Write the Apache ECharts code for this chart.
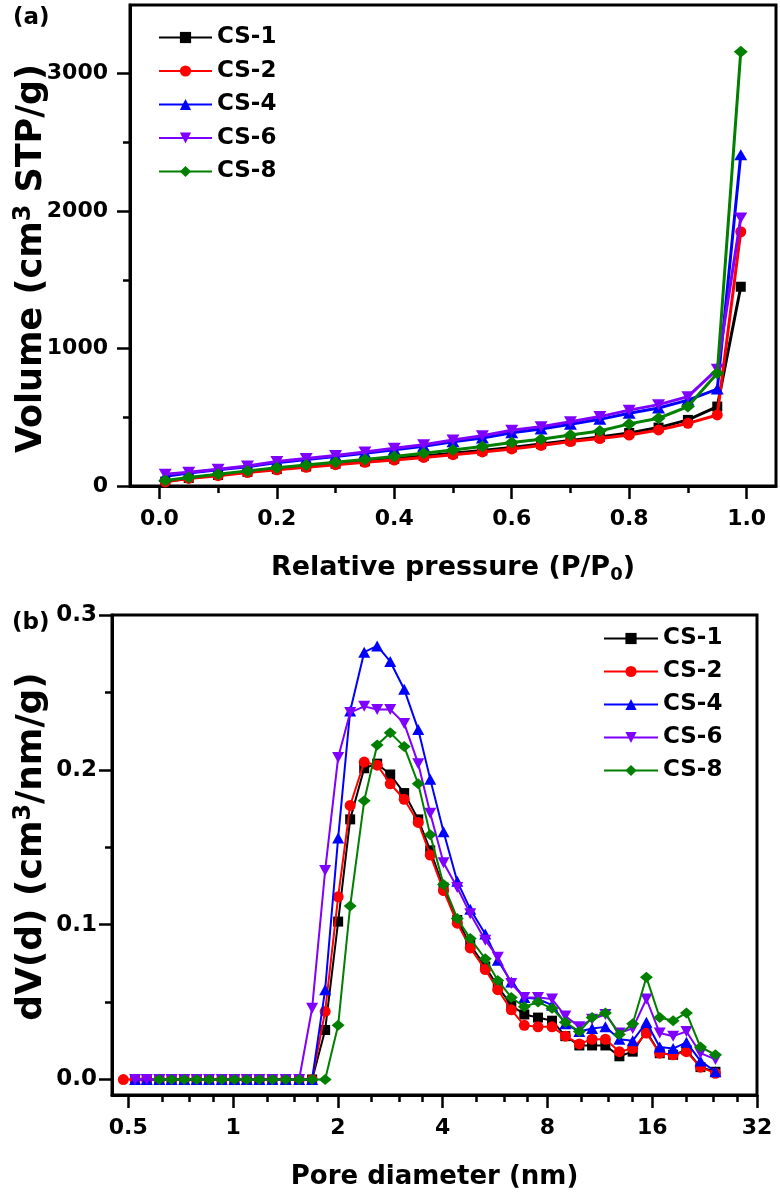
<!DOCTYPE html>
<html><head><meta charset="utf-8">
<script src="https://cdn.jsdelivr.net/npm/echarts@6/dist/echarts.min.js"></script>
<style>html,body{margin:0;padding:0;background:#fff;}#c{width:780px;height:1196px;}</style>
</head><body><div id="c"></div>
<script>
// ---------- DATA ----------
const seriesNames = ['CS-1', 'CS-2', 'CS-4', 'CS-6', 'CS-8'];

// (a) N2 isotherms
const pressure = [0.01, 0.05, 0.10, 0.15, 0.20, 0.25, 0.30, 0.35, 0.40, 0.45, 0.50, 0.55, 0.60, 0.65, 0.70, 0.75, 0.80, 0.85, 0.90, 0.95, 0.99];
const volCS1 = [32, 58, 80, 103, 123, 142, 162, 180, 198, 218, 238, 258, 281, 305, 332, 356, 386, 425, 481, 578, 1450];
const volCS2 = [30, 55, 75, 98, 118, 136, 155, 172, 189, 208, 228, 248, 270, 295, 323, 345, 371, 408, 456, 517, 1850];
const volCS4 = [70, 95, 118, 140, 170, 192, 214, 238, 264, 290, 322, 350, 388, 415, 450, 485, 530, 568, 625, 705, 2410];
const volCS6 = [85, 100, 122, 145, 178, 200, 222, 248, 275, 300, 335, 365, 405, 432, 468, 505, 552, 592, 650, 850, 1950];
const volCS8 = [40, 62, 85, 110, 132, 152, 172, 193, 214, 238, 262, 287, 316, 340, 371, 400, 452, 493, 578, 821, 3160];

// (b) pore size distribution
const poreDiameter = [0.484, 0.523, 0.565, 0.614, 0.666, 0.724, 0.786, 0.853, 0.928, 1.009, 1.095, 1.190, 1.297, 1.417, 1.548, 1.687, 1.839, 2.004, 2.170, 2.381, 2.594, 2.828, 3.102, 3.404, 3.685, 4.024, 4.406, 4.802, 5.303, 5.761, 6.300, 6.866, 7.517, 8.248, 9.007, 9.881, 10.749, 11.738, 12.877, 14.063, 15.397, 16.815, 18.375, 20.066, 22.016, 24.313];
const dvCS1 = [null, 0, 0, 0, 0, 0, 0, 0, 0, 0, 0, 0, 0, 0, 0, 0, 0.032, 0.102, 0.168, 0.201, 0.204, 0.197, 0.185, 0.168, 0.148, 0.124, 0.103, 0.087, 0.073, 0.060, 0.048, 0.042, 0.040, 0.038, 0.028, 0.022, 0.022, 0.022, 0.015, 0.018, 0.031, 0.017, 0.016, 0.019, 0.008, 0.005];
const dvCS2 = [0, 0, 0, 0, 0, 0, 0, 0, 0, 0, 0, 0, 0, 0, 0, 0, 0.044, 0.118, 0.177, 0.205, 0.203, 0.191, 0.181, 0.166, 0.145, 0.122, 0.101, 0.085, 0.071, 0.058, 0.045, 0.035, 0.034, 0.034, 0.028, 0.023, 0.026, 0.026, 0.018, 0.020, 0.030, 0.017, 0.016, 0.018, 0.008, 0.004];
const dvCS4 = [null, 0, 0, 0, 0, 0, 0, 0, 0, 0, 0, 0, 0, 0, 0, 0, 0.058, 0.156, 0.238, 0.276, 0.280, 0.270, 0.252, 0.226, 0.194, 0.160, 0.128, 0.110, 0.094, 0.077, 0.063, 0.053, 0.052, 0.048, 0.036, 0.031, 0.033, 0.034, 0.026, 0.025, 0.037, 0.021, 0.020, 0.024, 0.012, 0.005];
const dvCS6 = [null, 0, 0, 0, 0, 0, 0, 0, 0, 0, 0, 0, 0, 0, 0, 0.046, 0.135, 0.208, 0.237, 0.241, 0.239, 0.239, 0.230, 0.204, 0.172, 0.140, 0.124, 0.107, 0.090, 0.079, 0.062, 0.053, 0.053, 0.052, 0.041, 0.034, 0.039, 0.042, 0.030, 0.033, 0.052, 0.030, 0.028, 0.031, 0.017, 0.013];
const dvCS8 = [null, null, null, 0, 0, 0, 0, 0, 0, 0, 0, 0, 0, 0, 0, 0, 0, 0.035, 0.112, 0.180, 0.216, 0.224, 0.215, 0.191, 0.158, 0.126, 0.104, 0.091, 0.078, 0.064, 0.053, 0.047, 0.050, 0.046, 0.037, 0.031, 0.040, 0.043, 0.029, 0.036, 0.066, 0.040, 0.038, 0.043, 0.021, 0.016];

// axis ticks
const xTicksA = [0, 0.2, 0.4, 0.6, 0.8, 1.0];
const xMinorA = [0.1, 0.3, 0.5, 0.7, 0.9];
const yTicksA = [0, 1000, 2000, 3000];
const yMinorA = [500, 1500, 2500];
const xTicksB = [0.5, 1, 2, 4, 8, 16, 32];
const xMinorB = [0.625, 0.75, 0.875, 1.25, 1.5, 1.75, 2.5, 3, 3.5, 5, 6, 7, 10, 12, 14, 20, 24, 28];
const yTicksB = [0, 0.1, 0.2, 0.3];
const yMinorB = [0.05, 0.15, 0.25];

// ---------- STYLE / OPTIONS ----------
const FONT = 'DejaVu Sans';
const colors = ['#000000', '#ff0000', '#0000ff', '#7f00ff', '#007f00'];
const symbols = ['rect', 'circle', 'triangle', 'triangle', 'diamond'];
const rotates = [0, 0, 0, 180, 0];
const sizesA = [[10, 10], [11, 11], [13, 11], [13, 11], [14, 12]];
const sizesB = [[10, 10], [11, 11], [12, 11], [12, 11], [13, 11]];

const volData = [volCS1, volCS2, volCS4, volCS6, volCS8];
const dvData = [dvCS1, dvCS2, dvCS4, dvCS6, dvCS8];

function lbl(size) {
  return {color: '#000', fontFamily: FONT, fontWeight: 'bold', fontSize: size};
}
const fmt = v => String(+(+v).toPrecision(6));

const series = [];
seriesNames.forEach((n, i) => {
  series.push({
    name: n, type: 'line', xAxisIndex: 0, yAxisIndex: 0,
    data: pressure.map((p, k) => [p, volData[i][k]]),
    symbol: symbols[i], symbolRotate: rotates[i], symbolSize: sizesA[i],
    lineStyle: {color: colors[i], width: 3},
    itemStyle: {color: colors[i]},
    z: 2 + i
  });
});
seriesNames.forEach((n, i) => {
  const d = [];
  poreDiameter.forEach((x, k) => { if (dvData[i][k] !== null) d.push([x, dvData[i][k]]); });
  series.push({
    name: n, type: 'line', xAxisIndex: 2, yAxisIndex: 2,
    data: d,
    symbol: symbols[i], symbolRotate: rotates[i], symbolSize: sizesB[i],
    lineStyle: {color: colors[i], width: 2},
    itemStyle: {color: colors[i]},
    z: 2 + i
  });
});

const axisLine = {show: true, onZero: false, lineStyle: {color: '#000', width: 3}};
const noLine = {show: false, onZero: false};
const tickMajor = (vals) => ({show: true, inside: false, length: 13, customValues: vals, lineStyle: {color: '#000', width: 2.5}});
const tickMinor = (vals) => ({show: true, inside: false, length: 7, customValues: vals, lineStyle: {color: '#000', width: 2.5}});
const supRich = {p: {fontFamily: FONT, fontWeight: 'bold', fontSize: 24, lineHeight: 16, verticalAlign: 'top', color: '#000'}};

const option = {
  animation: false,
  backgroundColor: '#fff',
  grid: [
    {left: 130, top: 5, width: 646, height: 481, show: true, borderColor: '#000', borderWidth: 3, containLabel: false, outerBoundsMode: 'none'},
    {left: 112, top: 615, width: 645, height: 480, show: true, borderColor: '#000', borderWidth: 3, containLabel: false, outerBoundsMode: 'none'}
  ],
  legend: [
    {
      data: seriesNames, orient: 'vertical', left: 153, top: 21,
      itemWidth: 53, itemHeight: 14, itemGap: 10.5,
      textStyle: Object.assign(lbl(23), {lineHeight: 23}),
      selectedMode: false
    },
    {
      data: seriesNames, orient: 'vertical', left: 598, top: 622,
      itemWidth: 54, itemHeight: 14, itemGap: 10,
      textStyle: Object.assign(lbl(23), {lineHeight: 23}),
      selectedMode: false
    }
  ],
  xAxis: [
    {
      gridIndex: 0, type: 'value', min: -0.05, max: 1.05, position: 'bottom',
      axisLine: axisLine, axisTick: tickMajor(xTicksA),
      axisLabel: Object.assign(lbl(22), {customValues: xTicksA, margin: 22, formatter: v => (+v).toFixed(1)}),
      splitLine: {show: false},
      name: 'Relative pressure (P/P{s|0})', nameLocation: 'middle', nameGap: 66, nameMoveOverlap: false,
      nameTextStyle: Object.assign(lbl(27), {lineHeight: 32, rich: {s: {fontFamily: FONT, fontWeight: 'bold', fontSize: 18, lineHeight: 18, verticalAlign: 'bottom', color: '#000'}}})
    },
    {
      gridIndex: 0, type: 'value', min: -0.05, max: 1.05, position: 'bottom',
      axisLine: noLine, axisTick: tickMinor(xMinorA), axisLabel: {show: false}, splitLine: {show: false}
    },
    {
      gridIndex: 1, type: 'log', logBase: 2, min: 0.449, max: 32, position: 'bottom',
      axisLine: axisLine, axisTick: tickMajor(xTicksB),
      axisLabel: Object.assign(lbl(22), {customValues: xTicksB, margin: 22, formatter: fmt}),
      splitLine: {show: false}, minorTick: {show: false},
      name: 'Pore diameter (nm)', nameLocation: 'middle', nameGap: 66, nameMoveOverlap: false,
      nameTextStyle: Object.assign(lbl(26), {lineHeight: 32})
    },
    {
      gridIndex: 1, type: 'log', logBase: 2, min: 0.449, max: 32, position: 'bottom',
      axisLine: noLine, axisTick: tickMinor(xMinorB), axisLabel: {show: false}, splitLine: {show: false}
    }
  ],
  yAxis: [
    {
      gridIndex: 0, type: 'value', min: 0, max: 3500, position: 'left',
      axisLine: axisLine, axisTick: tickMajor(yTicksA),
      axisLabel: Object.assign(lbl(22), {customValues: yTicksA, margin: 22, formatter: fmt}),
      splitLine: {show: false},
      name: 'Volume (cm{p|3} STP/g)', nameLocation: 'middle', nameGap: 78, nameMoveOverlap: false,
      nameTextStyle: Object.assign(lbl(35), {lineHeight: 40, padding: [0, 26, 0, 0], rich: supRich})
    },
    {
      gridIndex: 0, type: 'value', min: 0, max: 3500, position: 'left',
      axisLine: noLine, axisTick: tickMinor(yMinorA), axisLabel: {show: false}, splitLine: {show: false}
    },
    {
      gridIndex: 1, type: 'value', min: -0.01, max: 0.3, position: 'left',
      axisLine: axisLine, axisTick: tickMajor(yTicksB),
      axisLabel: Object.assign(lbl(23), {customValues: yTicksB, margin: 15, formatter: v => (+v).toFixed(1)}),
      splitLine: {show: false},
      name: 'dV(d) (cm{p|3}/nm/g)', nameLocation: 'middle', nameGap: 60, nameMoveOverlap: false,
      nameTextStyle: Object.assign(lbl(36), {lineHeight: 40, padding: [0, 0, 0, 17], rich: supRich})
    },
    {
      gridIndex: 1, type: 'value', min: -0.01, max: 0.3, position: 'left',
      axisLine: noLine, axisTick: tickMinor(yMinorB), axisLabel: {show: false}, splitLine: {show: false}
    }
  ],
  graphic: [
    {type: 'text', left: 13, top: 7, style: {text: '(a)', fill: '#000', font: 'bold 23px "DejaVu Sans"'}},
    {type: 'text', left: 12, top: 612, style: {text: '(b)', fill: '#000', font: 'bold 23px "DejaVu Sans"'}}
  ],
  series: series
};

const chart = echarts.init(document.getElementById('c'), null, {renderer: 'canvas'});
chart.setOption(option);
</script>
</body></html>
